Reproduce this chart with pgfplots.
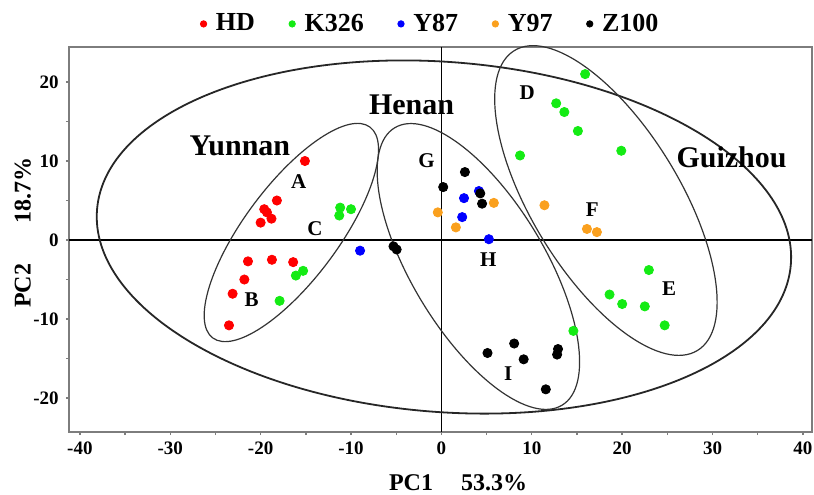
\documentclass[border=0pt]{standalone}
\usepackage{fontspec}
\setmainfont{Liberation Serif}
\usepackage{pgfplots}
\pgfplotsset{compat=1.18}
\definecolor{cHD}{RGB}{255,0,0}
\definecolor{cK}{RGB}{20,235,20}
\definecolor{cYa}{RGB}{0,0,255}
\definecolor{cYb}{RGB}{250,160,30}
\definecolor{cZ}{RGB}{0,0,0}
\definecolor{frame}{RGB}{125,125,125}
\begin{document}
\begin{tikzpicture}
\begin{axis}[name=ax, scale only axis, width=371.5pt, height=192.5pt,
  xmin=-41.2, xmax=41.0, ymin=-24.3, ymax=24.43,
  xtick={-40,-30,...,40}, ytick={-20,-10,0,10,20},
  minor x tick num=1, minor y tick num=1,
  tick pos=left, tick align=outside,
  major tick length=1.6pt, minor tick length=1.6pt,
  axis line style={draw=frame, line width=0.8pt},
  every tick/.style={draw=frame, line width=0.7pt},
  /pgf/number format/assume math mode=true,
  ticklabel style={font=\fontsize{9.5}{11}\selectfont\bfseries},
  xlabel={PC1\hspace{14pt}53.3\%},
  ylabel={PC2\hspace{20pt}18.7\%},
  xlabel style={at={(axis description cs:0.5236,-0.1325)}, anchor=center, font=\fontsize{12}{14}\selectfont\bfseries},
  ylabel style={at={(axis description cs:-0.062,0.517)}, anchor=center, font=\fontsize{12}{14}\selectfont\bfseries},
  legend style={at={(0.4878,1.06)}, anchor=center, draw=none, fill=none,
    legend columns=-1, font=\fontsize{13}{16}\selectfont\bfseries,
    /tikz/every even column/.append style={column sep=15pt}},
  legend image code/.code={\draw[#1, mark size=1.6pt] plot coordinates {(0pt,0pt)}; \path (4pt,0pt);},
  clip=false,
]
\draw[black, line width=0.7pt] (axis cs:-41.2,0) -- (axis cs:41.0,0);
\draw[black, line width=0.7pt] (axis cs:0,-24.3) -- (axis cs:0,24.43);

\addplot[only marks, mark=*, mark size=2.3pt, color=cHD] coordinates {
(-15.1,10.0) (-18.2,5.0) (-19.6,3.9) (-19.3,3.5) (-18.8,2.7) (-20.0,2.2)
(-21.4,-2.7) (-18.75,-2.5) (-16.4,-2.8) (-21.8,-5.0) (-23.1,-6.8) (-23.5,-10.8)};
\addlegendentry{HD}
\addplot[only marks, mark=*, mark size=2.3pt, color=cK] coordinates {
(-11.2,4.1) (-10.0,3.9) (-11.3,3.1) (-15.3,-3.9) (-16.1,-4.5) (-17.9,-7.7)
(8.7,10.7) (14.6,-11.5) (15.9,21.0) (12.7,17.3) (13.6,16.2) (15.1,13.8)
(19.9,11.3) (22.95,-3.8) (18.6,-6.9) (20.0,-8.1) (22.5,-8.4) (24.7,-10.8)};
\addlegendentry{K326}
\addplot[only marks, mark=*, mark size=2.3pt, color=cYa] coordinates {
(-9.0,-1.35) (2.5,5.3) (4.15,6.2) (2.3,2.9) (5.25,0.1)};
\addlegendentry{Y87}
\addplot[only marks, mark=*, mark size=2.3pt, color=cYb] coordinates {
(-0.4,3.5) (1.6,1.6) (5.8,4.7) (11.4,4.4) (16.1,1.4) (17.2,1.0)};
\addlegendentry{Y97}
\addplot[only marks, mark=*, mark size=2.3pt, color=cZ] coordinates {
(2.6,8.6) (0.2,6.7) (4.3,5.9) (4.5,4.6) (-5.3,-0.8) (-4.95,-1.2)
(5.1,-14.3) (8.05,-13.1) (9.1,-15.1) (12.9,-13.8) (12.8,-14.5) (11.55,-18.9)};
\addlegendentry{Z100}

% ellipses
\draw[black!85, line width=0.9pt, rotate around={-4.5:(axis cs:0.28,0.38)}] (axis cs:0.28,0.38) ellipse [x radius=174pt, y radius=87.5pt];
\draw[black!80, line width=0.6pt, rotate around={53.3:(axis cs:-16.6,0.95)}] (axis cs:-16.6,0.95) ellipse [x radius=65.75pt, y radius=23.5pt];
\draw[black!80, line width=0.6pt, rotate around={-58.9:(axis cs:4.09,-3.35)}] (axis cs:4.09,-3.35) ellipse [x radius=81pt, y radius=33.25pt];
\draw[black!80, line width=0.6pt, rotate around={-58.6:(axis cs:18.2,5.0)}] (axis cs:18.2,5.0) ellipse [x radius=87.85pt, y radius=37pt];

% labels
\node[font=\fontsize{15}{18}\selectfont\bfseries] at (axis cs:-22.3,11.9) {Yunnan};
\node[font=\fontsize{15}{18}\selectfont\bfseries] at (axis cs:-3.3,17.1) {Henan};
\node[font=\fontsize{15}{18}\selectfont\bfseries] at (axis cs:32.1,10.5) {Guizhou};
\node[font=\fontsize{10.5}{12}\selectfont\bfseries] at (axis cs:-15.8,7.4) {A};
\node[font=\fontsize{10.5}{12}\selectfont\bfseries] at (axis cs:-21.0,-7.6) {B};
\node[font=\fontsize{10.5}{12}\selectfont\bfseries] at (axis cs:-14.0,1.5) {C};
\node[font=\fontsize{10.5}{12}\selectfont\bfseries] at (axis cs:9.5,18.6) {D};
\node[font=\fontsize{10.5}{12}\selectfont\bfseries] at (axis cs:25.2,-6.1) {E};
\node[font=\fontsize{10.5}{12}\selectfont\bfseries] at (axis cs:16.7,3.9) {F};
\node[font=\fontsize{10.5}{12}\selectfont\bfseries] at (axis cs:-1.65,10.0) {G};
\node[font=\fontsize{10.5}{12}\selectfont\bfseries] at (axis cs:5.2,-2.45) {H};
\node[font=\fontsize{10.5}{12}\selectfont\bfseries] at (axis cs:7.4,-16.9) {I};
\end{axis}
\pgfresetboundingbox
\path ([xshift=-34.5pt,yshift=-31pt]ax.south west) rectangle ([xshift=1pt,yshift=23.5pt]ax.north east);
\end{tikzpicture}
\end{document}
